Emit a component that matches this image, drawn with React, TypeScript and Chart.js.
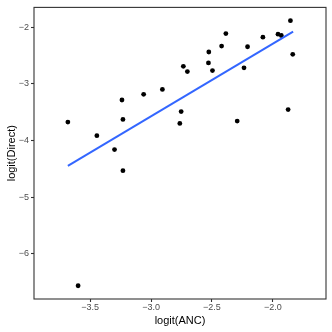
import React, { useEffect, useRef } from "react";
import { Chart, registerables } from "chart.js";

Chart.register(...registerables);

const ancX = [-3.683, -3.599, -3.445, -3.300, -3.239, -3.231, -3.231, -3.061, -2.907, -2.764, -2.753, -2.735, -2.702, -2.526, -2.529, -2.496, -2.421, -2.386, -2.293, -2.237, -2.208, -2.082, -1.958, -1.931, -1.856, -1.875, -1.837];
const directY = [-3.676, -6.566, -3.916, -4.161, -3.285, -3.629, -4.534, -3.186, -3.098, -3.699, -3.489, -2.690, -2.783, -2.438, -2.631, -2.765, -2.333, -2.112, -3.658, -2.718, -2.345, -2.175, -2.123, -2.146, -1.884, -3.454, -2.479];
const fitX = [-3.683, -1.834];
const fitY = [-4.447, -2.076];
const xTicks = [-3.5, -3.0, -2.5, -2.0];
const yTicks = [-6, -5, -4, -3, -2];

const fmt = (v: number, d: number) => {
  const s = Math.abs(v).toFixed(d);
  return v < 0 ? "\u2212" + s : s;
};

const panelBorder = {
  id: "panelBorder",
  afterDatasetsDraw(chart: any) {
    const { ctx, chartArea } = chart;
    ctx.save();
    ctx.strokeStyle = "#333333";
    ctx.lineWidth = 1.1;
    ctx.strokeRect(chartArea.left, chartArea.top, chartArea.right - chartArea.left, chartArea.bottom - chartArea.top);
    ctx.restore();
  },
};

export default function App() {
  const ref = useRef<HTMLCanvasElement>(null);
  useEffect(() => {
    document.body.style.margin = "0";
    const pts = ancX.map((x, i) => ({ x, y: directY[i] }));
    const line = fitX.map((x, i) => ({ x, y: fitY[i] }));
    const tickFont = { family: "'Liberation Sans', Arial, sans-serif", size: 9 };
    const titleFont = { family: "'Liberation Sans', Arial, sans-serif", size: 11 };
    const chart = new Chart(ref.current!, {
      type: "scatter",
      data: {
        datasets: [
          {
            type: "line",
            data: line,
            borderColor: "#3366FF",
            borderWidth: 2,
            pointRadius: 0,
            fill: false,
            order: 0,
          } as any,
          {
            data: pts,
            backgroundColor: "#000000",
            borderColor: "#000000",
            pointRadius: 2.4,
            borderWidth: 0,
            order: 1,
          },
        ],
      },
      options: {
        animation: false,
        responsive: false,
        layout: { padding: { left: 0, top: 5, right: 6, bottom: 0 } },
        plugins: { legend: { display: false }, tooltip: { enabled: false } },
        scales: {
          x: {
            type: "linear",
            min: -3.961,
            max: -1.564,
            afterBuildTicks: (s: any) => { s.ticks = xTicks.map((v) => ({ value: v })); },
            afterFit: (s: any) => { s.height = 33; },
            border: { display: false },
            grid: { drawOnChartArea: false, drawTicks: true, tickLength: 3, tickColor: "#333333", tickWidth: 1.1 },
            ticks: { color: "#4D4D4D", font: tickFont, padding: 0, maxRotation: 0, callback: (v: any) => fmt(Number(v), 1) },
            title: { display: true, text: "logit(ANC)", color: "#000000", font: titleFont, padding: { top: 0, bottom: 4 } },
          },
          y: {
            type: "linear",
            min: -6.80,
            max: -1.65,
            afterBuildTicks: (s: any) => { s.ticks = yTicks.map((v) => ({ value: v })); },
            afterFit: (s: any) => { s.width = 34; },
            border: { display: false },
            grid: { drawOnChartArea: false, drawTicks: true, tickLength: 3, tickColor: "#333333", tickWidth: 1.1 },
            ticks: { color: "#4D4D4D", font: tickFont, padding: 2, callback: (v: any) => fmt(Number(v), 0) },
            title: { display: true, text: "logit(Direct)", color: "#000000", font: titleFont, padding: { top: 5, bottom: 0 } },
          },
        },
      },
      plugins: [panelBorder],
    });
    return () => chart.destroy();
  }, []);
  return (
    <div style={{ width: 332, height: 332 }}>
      <canvas ref={ref} width={332} height={332} />
    </div>
  );
}
